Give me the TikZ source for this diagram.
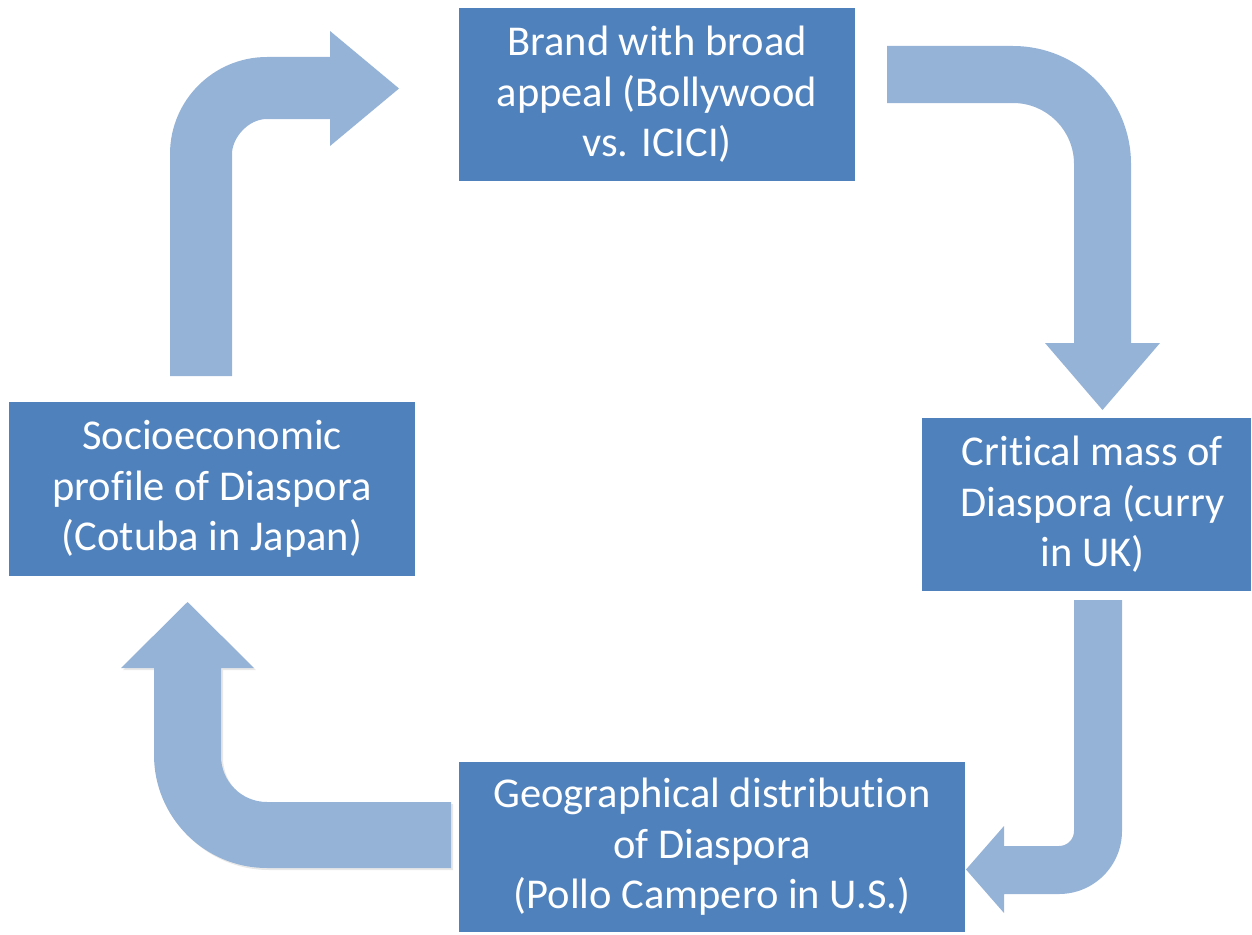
\documentclass[tikz,border=0pt]{standalone}
\usepackage{fontspec}
\setmainfont[Ligatures=NoCommon]{Carlito}
\usetikzlibrary{shadows}
\definecolor{boxblue}{HTML}{4F81BD}
\definecolor{arrowblue}{HTML}{95B3D7}
\begin{document}
\begin{tikzpicture}[x=1pt,y=-1pt,
  stagebox/.style={fill=boxblue, draw=none, text=white, align=center, inner sep=0pt,
    font=\fontsize{42.5}{50.5}\selectfont},
  bentarrow/.style={fill=arrowblue, draw=none}]
\useasboundingbox (0,0) rectangle (1252,934);
% boxes
\node[stagebox, minimum width=396pt, minimum height=173pt] (brand) at (657,94.5)
  {Brand with broad\\appeal (Bollywood\\vs. ICICI)};
\node[stagebox, minimum width=329pt, minimum height=173pt] (critical) at (1086.5,504.5)
  {\hspace*{12pt}Critical mass of\\\hspace*{12pt}Diaspora (curry\\\hspace*{12pt}in UK)};
\node[stagebox, minimum width=506pt, minimum height=170pt] (geo) at (712,847)
  {Geographical distribution\\of Diaspora\\(Pollo Campero in U.S.)};
\node[stagebox, minimum width=406pt, minimum height=174pt] (socio) at (212,489)
  {Socioeconomic\\profile of Diaspora\\(Cotuba in Japan)};
% arrow: socio -> brand
\fill[bentarrow] (170,376) -- (170,154) .. controls (170,100.4) and (213.4,57) .. (267,57)
  -- (330,57) -- (330,31) -- (399,88.5) -- (330,146) -- (330,119) -- (267,119)
  .. controls (247.7,119) and (232,138.3) .. (232,154) -- (232,376) -- cycle;
% arrow: brand -> critical
\fill[bentarrow] (887,46) -- (1013,46) .. controls (1078.2,46) and (1131,98.8) .. (1131,164)
  -- (1131,343) -- (1160,343) -- (1102.5,410) -- (1045,343) -- (1074,343) -- (1074,164)
  .. controls (1074,130.3) and (1046.7,103) .. (1013,103) -- (887,103) -- cycle;
% arrow: critical -> geo
\fill[bentarrow] (1074,600) -- (1122,600) -- (1122,831) .. controls (1122,865.8) and (1093.8,894) .. (1059,894)
  -- (1004,894) -- (1004,913) -- (966,869.5) -- (1004,826) -- (1004,846) -- (1059,846)
  .. controls (1067.3,846) and (1074,839.3) .. (1074,831) -- cycle;
% arrow: geo -> socio
\fill[bentarrow, drop shadow={shadow xshift=2pt, shadow yshift=-2pt, opacity=0.18}]
  (451,802) -- (451,868) -- (267,868) .. controls (204.6,868) and (154,817.4) .. (154,755)
  -- (154,668) -- (121,668) -- (187.5,602) -- (254,668) -- (221,668) -- (221,756)
  .. controls (221,781.4) and (241.6,802) .. (267,802) -- cycle;
\end{tikzpicture}
\end{document}
